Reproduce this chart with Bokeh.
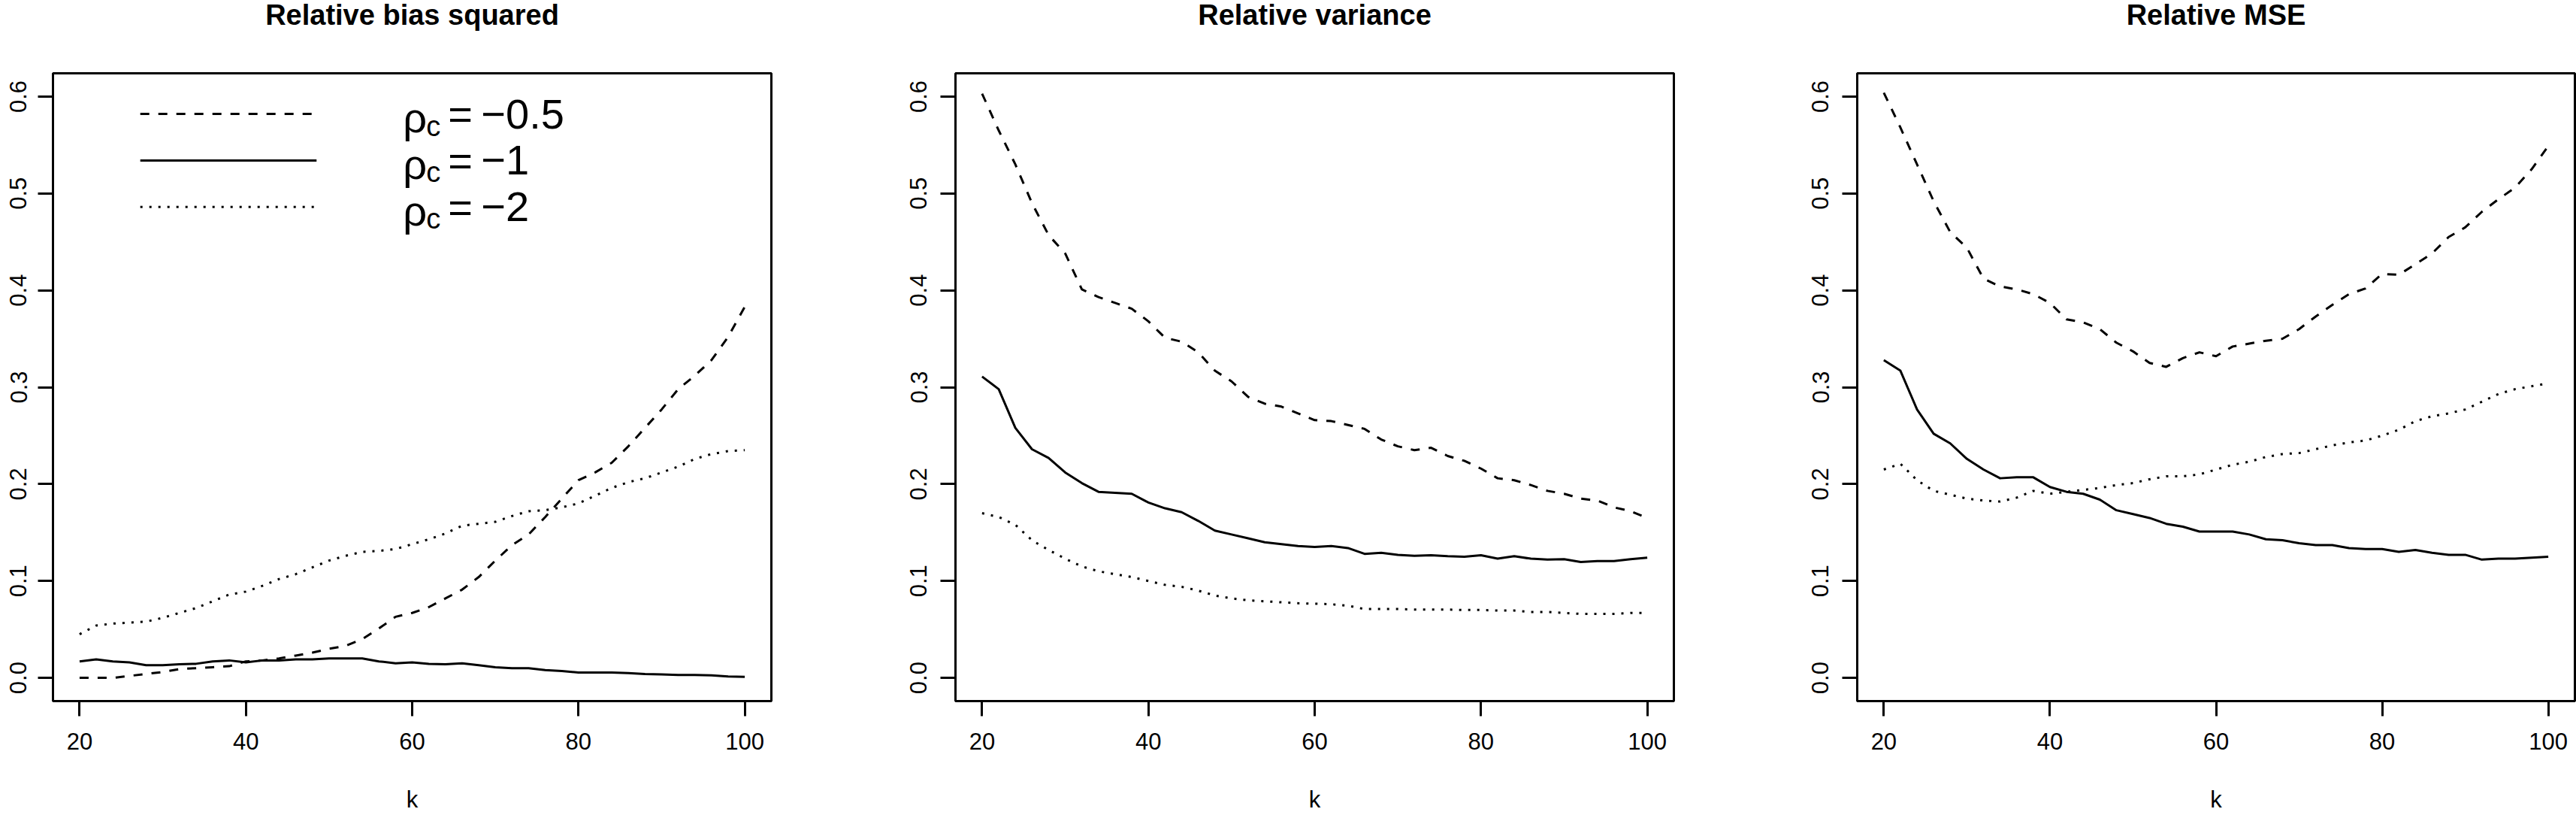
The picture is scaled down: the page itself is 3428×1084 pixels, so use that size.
from bokeh.plotting import figure
from bokeh.layouts import row, column
from bokeh.models import Range1d, FixedTicker, NumeralTickFormatter
from bokeh.core.properties import value
from bokeh.embed import file_html
from bokeh.resources import INLINE

# ---------------- data ----------------
k = list(range(20, 101, 2))

bias_m05 = [0.000, 0.000, 0.000, 0.002, 0.004, 0.006, 0.009, 0.010, 0.011, 0.012,
            0.017, 0.018, 0.020, 0.023, 0.026, 0.030, 0.033, 0.040, 0.051, 0.063,
            0.067, 0.073, 0.082, 0.091, 0.104, 0.121, 0.137, 0.148, 0.166, 0.185,
            0.204, 0.212, 0.222, 0.239, 0.258, 0.277, 0.298, 0.312, 0.328, 0.352,
            0.383]
bias_m1 = [0.017, 0.019, 0.017, 0.016, 0.013, 0.013, 0.014, 0.0145, 0.017, 0.018,
           0.016, 0.018, 0.018, 0.019, 0.019, 0.020, 0.020, 0.020, 0.017, 0.015,
           0.016, 0.0145, 0.014, 0.015, 0.013, 0.011, 0.010, 0.010, 0.008, 0.007,
           0.0055, 0.0055, 0.0055, 0.005, 0.004, 0.0035, 0.003, 0.003, 0.0025, 0.0015,
           0.001]
bias_m2 = [0.045, 0.054, 0.056, 0.057, 0.058, 0.062, 0.067, 0.072, 0.079, 0.086,
           0.089, 0.095, 0.102, 0.107, 0.114, 0.121, 0.126, 0.130, 0.131, 0.133,
           0.138, 0.143, 0.149, 0.157, 0.159, 0.161, 0.167, 0.172, 0.173, 0.176,
           0.180, 0.188, 0.196, 0.202, 0.206, 0.212, 0.218, 0.226, 0.231, 0.234,
           0.235]

var_m05 = [0.603, 0.565, 0.530, 0.490, 0.457, 0.438, 0.401, 0.393, 0.387, 0.381,
           0.368, 0.351, 0.347, 0.336, 0.317, 0.306, 0.290, 0.283, 0.280, 0.273,
           0.266, 0.265, 0.261, 0.257, 0.246, 0.239, 0.235, 0.2375, 0.229, 0.224,
           0.216, 0.206, 0.204, 0.199, 0.193, 0.190, 0.185, 0.183, 0.176, 0.172,
           0.165]
var_m1 = [0.311, 0.298, 0.258, 0.236, 0.227, 0.212, 0.201, 0.192, 0.191, 0.190,
          0.181, 0.175, 0.171, 0.162, 0.152, 0.148, 0.144, 0.140, 0.138, 0.136,
          0.135, 0.136, 0.134, 0.128, 0.129, 0.127, 0.126, 0.1265, 0.1255, 0.125,
          0.1265, 0.123, 0.1255, 0.123, 0.122, 0.1225, 0.1195, 0.1205, 0.1205, 0.1225,
          0.124]
var_m2 = [0.170, 0.166, 0.158, 0.142, 0.132, 0.123, 0.115, 0.110, 0.107, 0.104,
          0.100, 0.096, 0.094, 0.090, 0.085, 0.082, 0.080, 0.079, 0.078, 0.077,
          0.0765, 0.076, 0.0745, 0.071, 0.071, 0.071, 0.0705, 0.0705, 0.0705, 0.070,
          0.070, 0.0695, 0.0695, 0.068, 0.068, 0.067, 0.066, 0.066, 0.066, 0.067,
          0.067]

mse_m05 = [0.604, 0.568, 0.530, 0.492, 0.460, 0.444, 0.412, 0.404, 0.401, 0.396,
           0.387, 0.370, 0.367, 0.360, 0.346, 0.337, 0.325, 0.321, 0.330, 0.336,
           0.332, 0.342, 0.345, 0.348, 0.350, 0.360, 0.373, 0.385, 0.396, 0.402,
           0.417, 0.416, 0.427, 0.438, 0.455, 0.465, 0.481, 0.494, 0.506, 0.525,
           0.549]
mse_m1 = [0.328, 0.317, 0.277, 0.252, 0.242, 0.226, 0.215, 0.206, 0.207, 0.207,
          0.197, 0.192, 0.190, 0.184, 0.173, 0.169, 0.165, 0.159, 0.156, 0.151,
          0.151, 0.151, 0.148, 0.143, 0.142, 0.139, 0.137, 0.137, 0.134, 0.133,
          0.133, 0.130, 0.132, 0.129, 0.127, 0.127, 0.122, 0.123, 0.123, 0.124,
          0.125]
mse_m2 = [0.215, 0.221, 0.204, 0.193, 0.189, 0.185, 0.183, 0.182, 0.186, 0.193,
          0.190, 0.192, 0.194, 0.196, 0.199, 0.201, 0.205, 0.208, 0.208, 0.210,
          0.215, 0.220, 0.223, 0.228, 0.231, 0.232, 0.236, 0.240, 0.243, 0.245,
          0.250, 0.256, 0.265, 0.270, 0.273, 0.277, 0.285, 0.293, 0.298, 0.301,
          0.304]

titles = ["Relative bias squared", "Relative variance", "Relative MSE"]
x_ticks = [20, 40, 60, 80, 100]
y_ticks = [0.0, 0.1, 0.2, 0.3, 0.4, 0.5, 0.6]
legend_values = ["\u22120.5", "\u22121", "\u22122"]
x_label = "k"

# ---------------- style ----------------
FONT = "Liberation Sans"
DASHES = ["12 12", "solid", "3 9"]
LW = 3
X0, X1 = 16.8, 103.2
Y0, Y1 = -0.024, 0.624
TITLE_H = 92       # height of the strip that holds each title
TOP_PAD = 5        # gap between title strip and plot box

panels = [
    (titles[0], [bias_m05, bias_m1, bias_m2], 70, 117, 956, 15),
    (titles[1], [var_m05, var_m1, var_m2], 128, 59, 956, 18),
    (titles[2], [mse_m05, mse_m1, mse_m2], 185, 2, 955, 18),
]

cols = []
for i, (ttl, series, lb, rb, fw, ystand) in enumerate(panels):
    xr = Range1d(X0, X1)
    # ---- title strip ----
    t = figure(frame_width=fw, frame_height=TITLE_H,
               min_border_left=lb, min_border_right=rb,
               min_border_top=0, min_border_bottom=0,
               x_range=xr, y_range=Range1d(0, TITLE_H),
               x_axis_location=None, y_axis_location=None,
               output_backend="svg", toolbar_location=None)
    t.outline_line_color = None
    t.xgrid.visible = False
    t.ygrid.visible = False
    t.text(x=[(X0 + X1) / 2], y=[TITLE_H - 19], text=[ttl],
           text_font=value(FONT), text_font_size="38px",
           text_font_style="bold", text_color="black",
           text_align="center", text_baseline="middle")

    # ---- plot ----
    p = figure(frame_width=fw, frame_height=835,
               min_border_left=lb, min_border_right=rb,
               min_border_top=TOP_PAD, min_border_bottom=152,
               x_range=xr, y_range=Range1d(Y0, Y1),
               output_backend="svg", toolbar_location=None)
    p.outline_line_color = "black"
    p.outline_line_width = LW
    p.outline_line_alpha = 1
    p.xgrid.visible = False
    p.ygrid.visible = False
    p.background_fill_color = "white"
    p.border_fill_color = "white"

    for ax in (p.xaxis[0], p.yaxis[0]):
        ax.axis_line_color = None
        ax.major_tick_line_color = "black"
        ax.major_tick_line_width = LW
        ax.major_tick_in = 0
        ax.major_tick_out = 20
        ax.minor_tick_line_color = None
        ax.major_label_text_font = FONT
        ax.major_label_text_font_size = "31px"
        ax.major_label_text_color = "black"
    p.xaxis.ticker = FixedTicker(ticks=x_ticks)
    p.yaxis.ticker = FixedTicker(ticks=y_ticks)
    p.yaxis.formatter = NumeralTickFormatter(format="0.0")
    p.yaxis.major_label_orientation = "vertical"
    p.yaxis.major_label_standoff = ystand
    p.xaxis.major_label_standoff = 22
    p.xaxis.axis_label = x_label
    p.xaxis.axis_label_text_font = FONT
    p.xaxis.axis_label_text_font_size = "31px"
    p.xaxis.axis_label_text_font_style = "normal"
    p.xaxis.axis_label_text_color = "black"
    p.xaxis.axis_label_standoff = 46

    for s, dash in zip(series, DASHES):
        p.line(k, s, line_color="black", line_width=LW, line_dash=dash,
               line_join="round", line_cap="butt")

    if i == 0:
        # legend (positions in data units of this panel)
        lx0, lx1, tx = 27.3, 48.5, 58.9
        rows_y = [0.582, 0.534, 0.486]
        for yv, dash, lab in zip(rows_y, DASHES, legend_values):
            p.segment(x0=[lx0], y0=[yv], x1=[lx1], y1=[yv], line_color="black",
                      line_width=LW, line_dash=dash, line_cap="butt")
            p.text(x=[tx], y=[yv], text=["\u03c1"], text_font=value(FONT),
                   text_font_size="56px", text_baseline="middle",
                   text_align="left", text_color="black", y_offset=5)
            p.text(x=[tx], y=[yv], text=["c"], text_font=value(FONT),
                   text_font_size="38px", text_baseline="middle",
                   text_align="left", text_color="black",
                   x_offset=31, y_offset=16)
            p.text(x=[tx], y=[yv], text=["="], text_font=value(FONT),
                   text_font_size="56px", text_baseline="middle",
                   text_align="left", text_color="black", x_offset=60)
            p.text(x=[tx], y=[yv], text=[lab], text_font=value(FONT),
                   text_font_size="56px", text_baseline="middle",
                   text_align="left", text_color="black", x_offset=104)
    cols.append(column(t, p, spacing=0))

layout = row(*cols, spacing=0)
open("out.html", "w").write(file_html(layout, INLINE))
